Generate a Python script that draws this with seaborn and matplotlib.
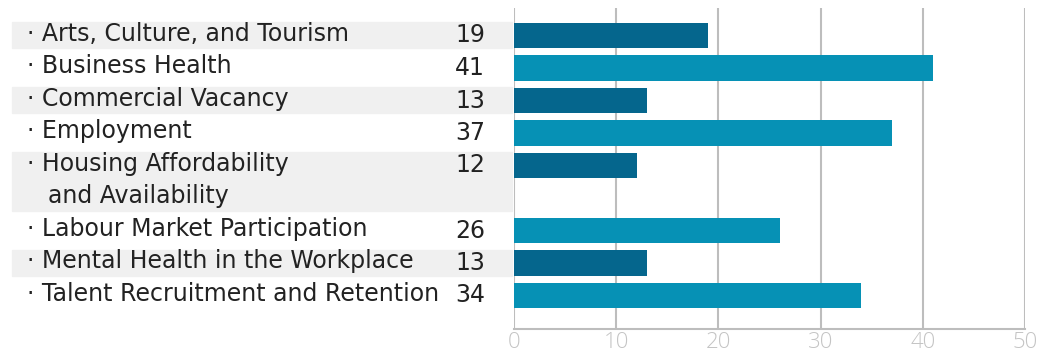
import numpy as np
import matplotlib.pyplot as plt
import matplotlib.transforms as mtransforms
from matplotlib.patches import Rectangle
import seaborn as sns

# data
topics = [
    'Arts, Culture, and Tourism',
    'Business Health',
    'Commercial Vacancy',
    'Employment',
    'Housing Affordability\nand Availability',
    'Labour Market Participation',
    'Mental Health in the Workplace',
    'Talent Recruitment and Retention',
]
counts = [19, 41, 13, 37, 12, 26, 13, 34]
x_ticks = [0, 10, 20, 30, 40, 50]

dark_blue = '#05668D'
light_blue = '#0691B5'
band_grey = '#F0F0F0'
grid_grey = '#BDBDBD'
text_font = ['DejaVu Sans']

# row positions follow the number of text lines in each label
n_lines = [len(t.split('\n')) for t in topics]
positions = np.concatenate([[0], np.cumsum(n_lines)[:-1]])
tone = ['dark' if i % 2 == 0 else 'light' for i in range(len(topics))]

sns.set_style('white')
plt.rcParams['font.family'] = ['Open Sans', 'DejaVu Sans']

fig = plt.figure(figsize=(10.4, 3.54), dpi=100)
ax = fig.add_axes([514 / 1040, 1 - 329 / 354, 511 / 1040, 321 / 354])

sns.barplot(
    x=counts, y=positions, orient='h', native_scale=True,
    hue=tone, palette={'dark': dark_blue, 'light': light_blue},
    dodge=False, legend=False, errorbar=None, width=0.77,
    saturation=1, linewidth=0, ax=ax,
)

ax.set_xlim(0, 50)
ax.set_ylim(8 + 33.5 / 32.5, -27.5 / 32.5)
ax.set_xticks(x_ticks)
ax.set_yticks([])
ax.set_xlabel('')
ax.set_ylabel('')
ax.tick_params(axis='x', length=0, pad=2, labelsize=16, labelcolor='#C4C4C4')
for lbl in ax.get_xticklabels():
    lbl.set_fontweight('light')

ax.grid(axis='x', color=grid_grey, linewidth=1.5)
ax.set_axisbelow(True)
for side in ['top', 'right', 'left']:
    ax.spines[side].set_visible(False)
ax.spines['bottom'].set_color(grid_grey)
ax.spines['bottom'].set_linewidth(1.5)

# label table on the left: grey bands, topic names, values
trans = mtransforms.blended_transform_factory(fig.transFigure, ax.transData)
for i, (topic, value, pos, n) in enumerate(zip(topics, counts, positions, n_lines)):
    if i % 2 == 0:
        band = Rectangle((12 / 1040, pos - 0.41), 500 / 1040, n - 1 + 0.8,
                         transform=trans, color=band_grey, clip_on=False, zorder=0)
        fig.add_artist(band)
    lines = topic.split('\n')
    ax.text(27 / 1040, pos - 0.06, '· ' + lines[0], transform=trans, family=text_font,
            fontsize=17, color='#222222', va='center', ha='left')
    for k, extra in enumerate(lines[1:], start=1):
        ax.text(48 / 1040, pos + k - 0.06, extra, transform=trans, family=text_font,
                fontsize=17, color='#222222', va='center', ha='left')
    ax.text(455 / 1040, pos, str(value), transform=trans, family=text_font,
            fontsize=17, color='#222222', va='center', ha='left')

fig.savefig('out.png', dpi=100)
